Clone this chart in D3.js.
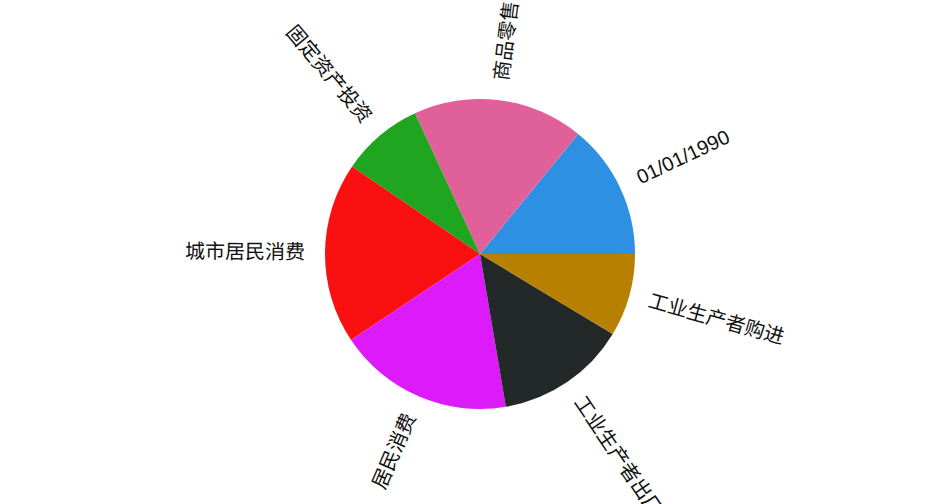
<!DOCTYPE html>
<html>
<head>
<meta charset="utf-8">
<script src="https://cdn.jsdelivr.net/npm/d3@7"></script>
<style>
  html, body { margin: 0; padding: 0; background: #ffffff; }
  svg { display: block; }
  text { font-family: "Liberation Sans", "Noto Sans CJK SC", sans-serif; }
</style>
</head>
<body>
<svg id="chart" width="936" height="504"></svg>
<script>
const categories = ["01/01/1990", "商品零售", "固定资产投资", "城市居民消费", "居民消费", "工业生产者出厂", "工业生产者购进"];
const values = [50.7, 64.1, 30.8, 68.1, 65.9, 49.3, 31.1];
const colors = ["#2e90e2", "#e0619a", "#1fa51f", "#fa1010", "#dd1bfa", "#232929", "#b88000"];

const width = 936, height = 504;
const cx = 480, cy = 254, radius = 155, labelRadius = 175;

const svg = d3.select("#chart");
const g = svg.append("g").attr("transform", `translate(${cx},${cy})`);

const data = categories.map((c, i) => ({ name: c, value: values[i], color: colors[i] }));

const pie = d3.pie()
  .sort(null)
  .value(d => d.value)
  .startAngle(Math.PI / 2)
  .endAngle(Math.PI / 2 - 2 * Math.PI);

const arc = d3.arc().innerRadius(0).outerRadius(radius);
const arcs = pie(data);

g.selectAll("path.slice")
  .data(arcs)
  .join("path")
  .attr("class", "slice")
  .attr("d", arc)
  .attr("fill", d => d.data.color);

g.selectAll("text.label")
  .data(arcs)
  .join("text")
  .attr("class", "label")
  .attr("font-size", 20)
  .attr("fill", "#111")
  .attr("dy", "0.3em")
  .each(function(d) {
    const m = (d.startAngle + d.endAngle) / 2;
    const x = labelRadius * Math.sin(m);
    const y = -labelRadius * Math.cos(m);
    const theta = 90 - m * 180 / Math.PI; // math angle, ccw from +x
    const right = Math.sin(m) >= 0;
    const rot = right ? -theta : 180 - theta;
    d3.select(this)
      .attr("text-anchor", right ? "start" : "end")
      .attr("transform", `translate(${x},${y}) rotate(${rot})`)
      .text(d.data.name);
  });
</script>
</body>
</html>
